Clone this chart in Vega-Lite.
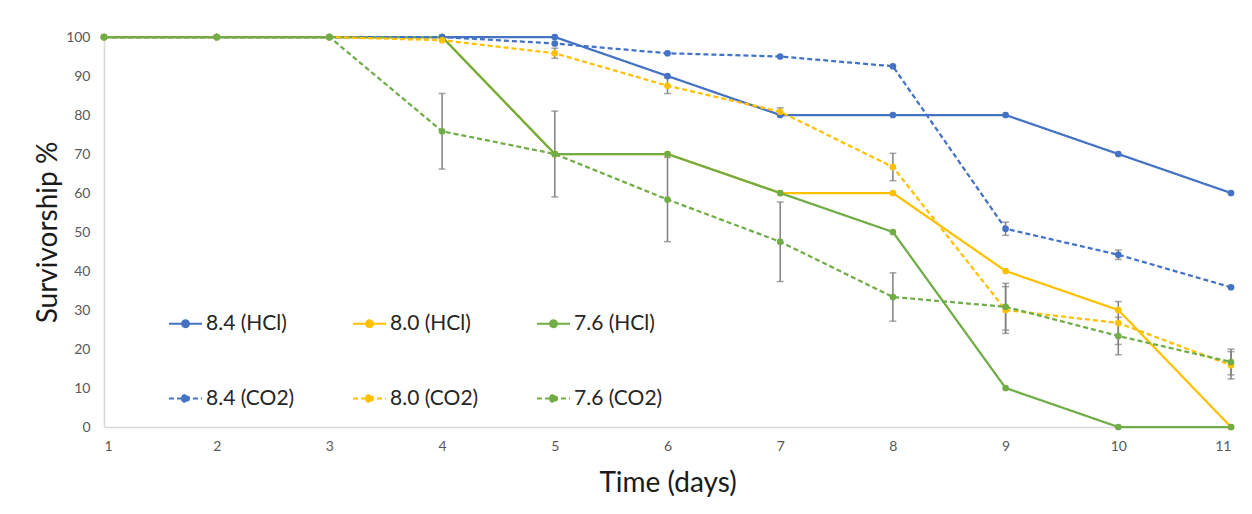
{
  "$schema": "https://vega.github.io/schema/vega-lite/v6.json",
  "width": 1127,
  "height": 390,
  "autosize": {"type": "none"},
  "padding": {"left": 104, "top": 37, "right": 21, "bottom": 87},
  "background": "white",
  "config": {
    "view": {"stroke": null},
    "font": "Lato",
    "axis": {"grid": false, "ticks": false, "domainColor": "#d9d9d9", "domainWidth": 1.5, "labelColor": "#595959", "labelFontSize": 14, "titleFontSize": 28, "titleFontWeight": "normal", "titleColor": "#1a1a1a"},
    "legend": {"labelFontSize": 21, "labelColor": "#262626", "symbolStrokeWidth": 2, "labelLimit": 200}
  },
  "data": {"values": [
    {"s": "8.4 (HCl)", "d": 1, "v": 100}, {"s": "8.4 (HCl)", "d": 2, "v": 100}, {"s": "8.4 (HCl)", "d": 3, "v": 100}, {"s": "8.4 (HCl)", "d": 4, "v": 100}, {"s": "8.4 (HCl)", "d": 5, "v": 100}, {"s": "8.4 (HCl)", "d": 6, "v": 90}, {"s": "8.4 (HCl)", "d": 7, "v": 80}, {"s": "8.4 (HCl)", "d": 8, "v": 80}, {"s": "8.4 (HCl)", "d": 9, "v": 80}, {"s": "8.4 (HCl)", "d": 10, "v": 70}, {"s": "8.4 (HCl)", "d": 11, "v": 60},
    {"s": "8.0 (HCl)", "d": 1, "v": 100}, {"s": "8.0 (HCl)", "d": 2, "v": 100}, {"s": "8.0 (HCl)", "d": 3, "v": 100}, {"s": "8.0 (HCl)", "d": 4, "v": 100}, {"s": "8.0 (HCl)", "d": 5, "v": 70}, {"s": "8.0 (HCl)", "d": 6, "v": 70}, {"s": "8.0 (HCl)", "d": 7, "v": 60}, {"s": "8.0 (HCl)", "d": 8, "v": 60}, {"s": "8.0 (HCl)", "d": 9, "v": 40}, {"s": "8.0 (HCl)", "d": 10, "v": 30}, {"s": "8.0 (HCl)", "d": 11, "v": 0},
    {"s": "7.6 (HCl)", "d": 1, "v": 100}, {"s": "7.6 (HCl)", "d": 2, "v": 100}, {"s": "7.6 (HCl)", "d": 3, "v": 100}, {"s": "7.6 (HCl)", "d": 4, "v": 100}, {"s": "7.6 (HCl)", "d": 5, "v": 70}, {"s": "7.6 (HCl)", "d": 6, "v": 70}, {"s": "7.6 (HCl)", "d": 7, "v": 60}, {"s": "7.6 (HCl)", "d": 8, "v": 50}, {"s": "7.6 (HCl)", "d": 9, "v": 10}, {"s": "7.6 (HCl)", "d": 10, "v": 0}, {"s": "7.6 (HCl)", "d": 11, "v": 0},
    {"s": "8.4 (CO2)", "d": 1, "v": 100}, {"s": "8.4 (CO2)", "d": 2, "v": 100}, {"s": "8.4 (CO2)", "d": 3, "v": 100}, {"s": "8.4 (CO2)", "d": 4, "v": 100}, {"s": "8.4 (CO2)", "d": 5, "v": 98.33}, {"s": "8.4 (CO2)", "d": 6, "v": 95.83}, {"s": "8.4 (CO2)", "d": 7, "v": 95}, {"s": "8.4 (CO2)", "d": 8, "v": 92.5}, {"s": "8.4 (CO2)", "d": 9, "v": 50.83, "e": 1.7}, {"s": "8.4 (CO2)", "d": 10, "v": 44.17, "e": 1.2}, {"s": "8.4 (CO2)", "d": 11, "v": 35.83},
    {"s": "8.0 (CO2)", "d": 1, "v": 100}, {"s": "8.0 (CO2)", "d": 2, "v": 100}, {"s": "8.0 (CO2)", "d": 3, "v": 100}, {"s": "8.0 (CO2)", "d": 4, "v": 99.17}, {"s": "8.0 (CO2)", "d": 5, "v": 95.83, "e": 1.3}, {"s": "8.0 (CO2)", "d": 6, "v": 87.5, "e": 2}, {"s": "8.0 (CO2)", "d": 7, "v": 80.83, "e": 1}, {"s": "8.0 (CO2)", "d": 8, "v": 66.67, "e": 3.5}, {"s": "8.0 (CO2)", "d": 9, "v": 30, "e": 6}, {"s": "8.0 (CO2)", "d": 10, "v": 26.67, "e": 5.5}, {"s": "8.0 (CO2)", "d": 11, "v": 15.83, "e": 3.5},
    {"s": "7.6 (CO2)", "d": 1, "v": 100}, {"s": "7.6 (CO2)", "d": 2, "v": 100}, {"s": "7.6 (CO2)", "d": 3, "v": 100}, {"s": "7.6 (CO2)", "d": 4, "v": 75.83, "e": 9.7}, {"s": "7.6 (CO2)", "d": 5, "v": 70, "e": 11}, {"s": "7.6 (CO2)", "d": 6, "v": 58.33, "e": 10.8}, {"s": "7.6 (CO2)", "d": 7, "v": 47.5, "e": 10.2}, {"s": "7.6 (CO2)", "d": 8, "v": 33.33, "e": 6.2}, {"s": "7.6 (CO2)", "d": 9, "v": 30.83, "e": 6}, {"s": "7.6 (CO2)", "d": 10, "v": 23.33, "e": 4.8}, {"s": "7.6 (CO2)", "d": 11, "v": 16.67, "e": 3.3}
  ]},
  "encoding": {
    "x": {"field": "d", "type": "quantitative", "title": "Time (days)", "scale": {"domain": [1, 11], "nice": false, "zero": false}, "axis": {"values": [1,2,3,4,5,6,7,8,9,10,11], "labelPadding": 12, "titlePadding": 16}},
    "y": {"field": "v", "type": "quantitative", "title": "Survivorship %", "scale": {"domain": [0, 100], "nice": false}, "axis": {"values": [0,10,20,30,40,50,60,70,80,90,100], "labelPadding": 14, "titlePadding": 3, "domain": true}}
  },
  "layer": [
    {
      "transform": [{"filter": "datum.e > 0"}],
      "mark": {"type": "errorbar", "color": "#7f7f7f", "thickness": 1.5, "ticks": {"size": 7, "color": "#7f7f7f"}},
      "encoding": {"yError": {"field": "e"}}
    },
    {
      "mark": {"type": "line", "strokeWidth": 2.25, "point": {"filled": true, "size": 45}},
      "encoding": {
        "color": {"field": "s", "type": "nominal", "sort": null,
          "scale": {"domain": ["8.4 (HCl)", "8.0 (HCl)", "7.6 (HCl)", "8.4 (CO2)", "8.0 (CO2)", "7.6 (CO2)"], "range": ["#4472c4", "#ffc000", "#70ad47", "#4472c4", "#ffc000", "#70ad47"]},
          "legend": {"title": null, "orient": "none", "legendX": 64, "legendY": 269, "columns": 3, "direction": "horizontal", "gridAlign": "all", "columnPadding": 54, "rowPadding": 47, "labelOffset": 3, "symbolSize": 1089, "symbolType": "M-1,0L1,0M-0.21,0A0.21,0.21 0 1,0 0.21,0A0.21,0.21 0 1,0 -0.21,0"}},
        "strokeDash": {"field": "s", "type": "nominal", "sort": null,
          "scale": {"domain": ["8.4 (HCl)", "8.0 (HCl)", "7.6 (HCl)", "8.4 (CO2)", "8.0 (CO2)", "7.6 (CO2)"], "range": [[1, 0], [1, 0], [1, 0], [5, 3], [5, 3], [5, 3]]},
          "legend": {"title": null, "orient": "none", "legendX": 64, "legendY": 269, "columns": 3, "direction": "horizontal", "gridAlign": "all", "columnPadding": 54, "rowPadding": 47, "labelOffset": 3, "symbolSize": 1089, "symbolType": "M-1,0L1,0M-0.21,0A0.21,0.21 0 1,0 0.21,0A0.21,0.21 0 1,0 -0.21,0"}}
      }
    }
  ]
}
